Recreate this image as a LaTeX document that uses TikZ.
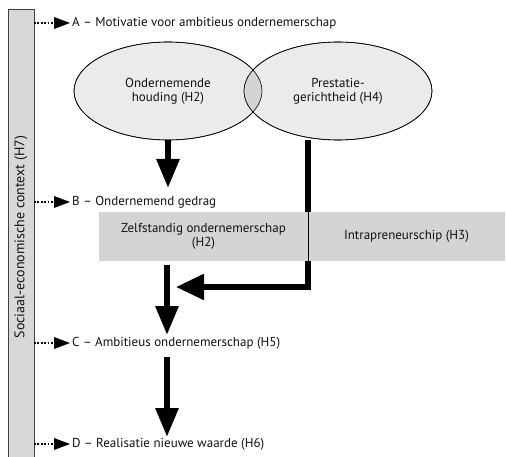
\documentclass[tikz,border=0pt]{standalone}
\usepackage{fontspec}
\setmainfont{PT Sans}
\usetikzlibrary{arrows.meta,shapes.geometric}
\definecolor{barfill}{HTML}{D8D8D8}
\definecolor{ellfill}{HTML}{EBEBEB}
\definecolor{ovlfill}{HTML}{D4D4D4}
\definecolor{boxfill}{HTML}{D4D4D4}
\definecolor{txt}{HTML}{111111}
\tikzset{
  lbl/.style={anchor=west, inner sep=0pt, text=txt},
  dotarrow/.style={line width=1.7pt, dash pattern=on 1.7pt off 1.7pt, -{Triangle[length=16pt,width=12pt,line width=0pt]}, shorten >=2pt},
  ell/.style={ellipse, draw=black, line width=0.6pt, fill=ellfill, minimum width=188pt, minimum height=98pt, inner sep=0pt, align=center, text=txt},
  boxnode/.style={rectangle, fill=boxfill, minimum height=49pt, inner sep=0pt, align=center, text=txt},
  bigarrow/.style={line width=6pt, -{Triangle[length=29pt,width=22pt]}},
  bigline/.style={line width=5.5pt, -{Triangle[length=28pt,width=25pt]}}
}
\begin{document}
\begin{tikzpicture}[x=1pt,y=-1pt, font=\fontsize{13}{14}\selectfont]
\useasboundingbox (0,0) rectangle (506,457);
% side bar
\fill[barfill] (8,9) rectangle (34,457);
\draw[black!75, line width=0.8pt] (8,457) -- (8,9) -- (34,9) -- (34,457);
\node[rotate=90, text=txt, font=\fontsize{14}{16}\selectfont] (ctx) at (21,237) {Sociaal-economische context (H7)};
% level labels
\node[lbl] (lA) at (72,23) {A – Motivatie voor ambitieus ondernemerschap};
\node[lbl] (lB) at (72,202) {B – Ondernemend gedrag};
\node[lbl] (lC) at (72,343) {C – Ambitieus ondernemerschap (H5)};
\node[lbl] (lD) at (72,444) {D – Realisatie nieuwe waarde (H6)};
\coordinate (bA) at (34,23);
\coordinate (bB) at (34,202);
\coordinate (bC) at (34,343);
\coordinate (bD) at (34,444);
\draw[dotarrow] (bA) -- (lA.west);
\draw[dotarrow] (bB) -- (lB.west);
\draw[dotarrow] (bC) -- (lC.west);
\draw[dotarrow] (bD) -- (lD.west);
% ellipses
\node[ell] (e1) at (168,91) {Ondernemende\\houding (H2)};
\node[ell] (e2) at (338,91) {Prestatie-\\gerichtheid (H4)};
\begin{scope}
  \clip (168,91) ellipse [x radius=94, y radius=49];
  \fill[ovlfill] (338,91) ellipse [x radius=94, y radius=49];
\end{scope}
\draw[line width=0.6pt] (168,91) ellipse [x radius=94, y radius=49];
\draw[line width=0.6pt] (338,91) ellipse [x radius=94, y radius=49];
% connector from e2 around
\coordinate (e2b) at (308,140);
\coordinate (turn) at (308,287);
\coordinate (tip) at (176,287);
\draw[bigline] (e2b) -- (turn) -- (tip);
% behaviour boxes
\node[boxnode, minimum width=209pt] (zs) at (203.5,236.5) {Zelfstandig ondernemerschap\\(H2)};
\node[boxnode, minimum width=197pt] (ip) at (406.5,236.5) {Intrapreneurschip (H3)};
\draw[line width=0.6pt] (zs.north east) -- (zs.south east);
% vertical thick arrows
\coordinate (a1s) at (168,140);
\coordinate (a1e) at (168,188);
\draw[bigarrow] (a1s) -- (a1e);
\coordinate (a2s) at (167,265);
\coordinate (a2e) at (167,335);
\draw[bigarrow] (a2s) -- (a2e);
\coordinate (a3s) at (167,357);
\coordinate (a3e) at (167,437);
\draw[bigarrow] (a3s) -- (a3e);
\end{tikzpicture}
\end{document}
